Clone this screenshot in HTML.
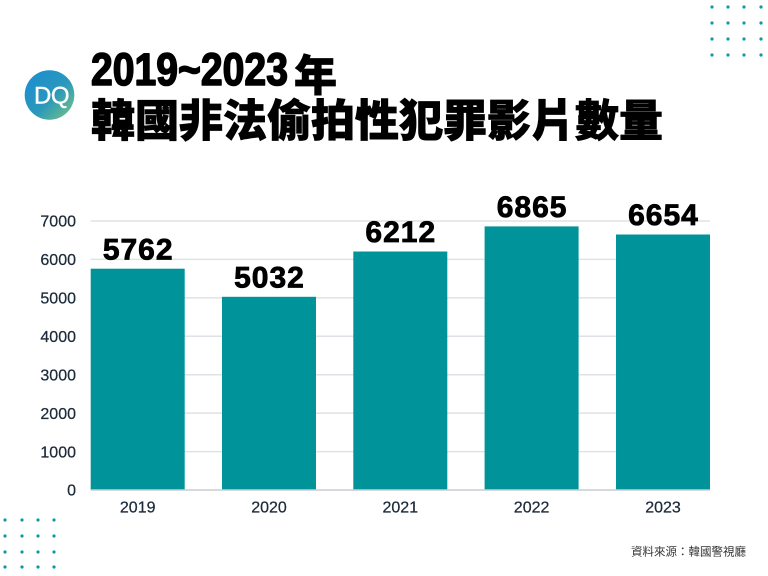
<!DOCTYPE html>
<html>
<head>
<meta charset="utf-8">
<style>
  html, body { margin: 0; padding: 0; background: #ffffff; }
  body { width: 768px; height: 576px; overflow: hidden; position: relative; }
  svg { position: absolute; left: 0; top: 0; }
</style>
</head>
<body>
<svg width="768" height="576" viewBox="0 0 768 576" xmlns="http://www.w3.org/2000/svg">
  <defs>
    <linearGradient id="lg" x1="0" y1="0" x2="1" y2="1">
      <stop offset="0" stop-color="#1a8dd3"/>
      <stop offset="0.55" stop-color="#2a98bb"/>
      <stop offset="1" stop-color="#7cc67f"/>
    </linearGradient>
  </defs>
  <rect width="768" height="576" fill="#ffffff"/>

  <!-- decorative dots top-right -->
  <g fill="#0e9aa0">
    <circle cx="712" cy="7" r="1.6"/><circle cx="728" cy="7" r="1.6"/><circle cx="744" cy="7" r="1.6"/><circle cx="761" cy="7" r="1.6"/>
    <circle cx="712" cy="23" r="1.6"/><circle cx="728" cy="23" r="1.6"/><circle cx="744" cy="23" r="1.6"/><circle cx="761" cy="23" r="1.6"/>
    <circle cx="712" cy="39" r="1.6"/><circle cx="728" cy="39" r="1.6"/><circle cx="744" cy="39" r="1.6"/><circle cx="761" cy="39" r="1.6"/>
    <circle cx="712" cy="55" r="1.6"/><circle cx="728" cy="55" r="1.6"/><circle cx="744" cy="55" r="1.6"/><circle cx="761" cy="55" r="1.6"/>
  </g>
  <!-- decorative dots bottom-left -->
  <g fill="#0e9aa0">
    <circle cx="5" cy="520" r="1.6"/><circle cx="22" cy="520" r="1.6"/><circle cx="38" cy="520" r="1.6"/><circle cx="54" cy="520" r="1.6"/>
    <circle cx="5" cy="536" r="1.6"/><circle cx="22" cy="536" r="1.6"/><circle cx="38" cy="536" r="1.6"/><circle cx="54" cy="536" r="1.6"/>
    <circle cx="5" cy="552" r="1.6"/><circle cx="22" cy="552" r="1.6"/><circle cx="38" cy="552" r="1.6"/><circle cx="54" cy="552" r="1.6"/>
    <circle cx="5" cy="567" r="1.6"/><circle cx="22" cy="567" r="1.6"/><circle cx="38" cy="567" r="1.6"/><circle cx="54" cy="567" r="1.6"/>
  </g>

  <!-- logo -->
  <circle cx="49.5" cy="95" r="24.8" fill="url(#lg)"/>
  <text x="51.5" y="103.5" text-anchor="middle" font-family="Liberation Sans, sans-serif" font-size="24" fill="#ffffff" stroke="#ffffff" stroke-width="0.4" letter-spacing="-0.5">DQ</text>

  <!-- title -->
  <g transform="translate(91,85) scale(0.87,1)">
    <text x="0" y="0" font-family="Liberation Sans, sans-serif" font-weight="bold" font-size="45" fill="#000000" stroke="#000000" stroke-width="1.6" stroke-linejoin="round">2019~2023</text>
  </g>
  <text x="294" y="91" font-family="Liberation Sans, 'Noto Sans CJK TC', sans-serif" font-weight="900" font-size="43" fill="#000000" stroke="#000000" stroke-width="0.8">年</text>
  <text x="91" y="136" font-family="Liberation Sans, 'Noto Sans CJK TC', sans-serif" font-weight="900" font-size="44" fill="#000000" stroke="#000000" stroke-width="0.8">韓國非法偷拍性犯罪影片數量</text>

  <!-- gridlines -->
  <g stroke="#dfe2e6" stroke-width="1.5">
    <line x1="90.7" y1="221" x2="710" y2="221"/>
    <line x1="90.7" y1="259.4" x2="710" y2="259.4"/>
    <line x1="90.7" y1="297.9" x2="710" y2="297.9"/>
    <line x1="90.7" y1="336.3" x2="710" y2="336.3"/>
    <line x1="90.7" y1="374.7" x2="710" y2="374.7"/>
    <line x1="90.7" y1="413.1" x2="710" y2="413.1"/>
    <line x1="90.7" y1="451.6" x2="710" y2="451.6"/>
  </g>

  <!-- bars -->
  <g fill="#01939a">
    <rect x="90.7" y="268.7" width="94" height="221.3"/>
    <rect x="222" y="296.8" width="94" height="193.2"/>
    <rect x="353.3" y="251.5" width="94" height="238.5"/>
    <rect x="484.6" y="226.4" width="94" height="263.6"/>
    <rect x="616" y="234.5" width="94" height="255.5"/>
  </g>

  <!-- baseline axis -->
  <line x1="90.7" y1="490" x2="710" y2="490" stroke="#c9cdd3" stroke-width="1.5"/>

  <!-- value labels -->
  <g font-family="Liberation Sans, sans-serif" font-weight="bold" font-size="30" fill="#000000" stroke="#000000" stroke-width="0.8" text-anchor="middle" letter-spacing="1">
    <text x="138.2" y="259.3">5762</text>
    <text x="269.5" y="287.3">5032</text>
    <text x="400.8" y="242">6212</text>
    <text x="532.1" y="216.9">6865</text>
    <text x="663.5" y="225">6654</text>
  </g>

  <!-- y-axis labels -->
  <g font-family="Liberation Sans, sans-serif" font-size="16" fill="#1c2a3a" stroke="#1c2a3a" stroke-width="0.25" text-anchor="end">
    <text x="76" y="226.7">7000</text>
    <text x="76" y="265.1">6000</text>
    <text x="76" y="303.6">5000</text>
    <text x="76" y="342">4000</text>
    <text x="76" y="380.4">3000</text>
    <text x="76" y="418.8">2000</text>
    <text x="76" y="457.3">1000</text>
    <text x="76" y="495.7">0</text>
  </g>

  <!-- x-axis labels -->
  <g font-family="Liberation Sans, sans-serif" font-size="16" fill="#1c2a3a" stroke="#1c2a3a" stroke-width="0.25" text-anchor="middle">
    <text x="137.7" y="512.5">2019</text>
    <text x="269" y="512.5">2020</text>
    <text x="400.3" y="512.5">2021</text>
    <text x="531.6" y="512.5">2022</text>
    <text x="663" y="512.5">2023</text>
  </g>

  <!-- source -->
  <text x="631" y="555.5" font-family="Liberation Sans, 'Noto Sans CJK TC', sans-serif" font-size="11.5" fill="#333333">資料來源：韓國警視廳</text>
</svg>
</body>
</html>
